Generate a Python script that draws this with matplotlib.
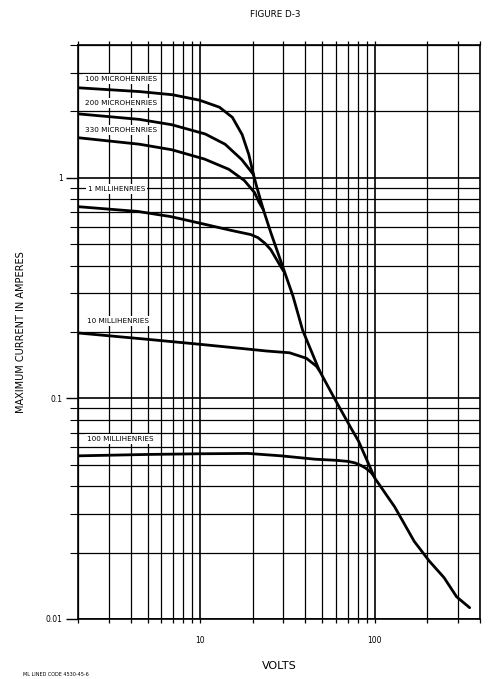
import numpy as np
import matplotlib
matplotlib.use('Agg')
import matplotlib.pyplot as plt
from matplotlib.ticker import LogLocator, NullFormatter

plt.rcParams['font.family'] = ['DejaVu Sans']

# curves: volts -> maximum current (A)
uh100_v = [2.0, 4.5, 6.95, 9.9, 12.9, 15.3, 17.4, 19.0, 20.2]
uh100_a = [2.56, 2.46, 2.38, 2.25, 2.09, 1.88, 1.57, 1.275, 1.035]

uh200_v = [2.0, 4.5, 6.9, 10.7, 13.9, 17.3, 20.2]
uh200_a = [1.95, 1.84, 1.74, 1.58, 1.42, 1.21, 1.035]

uh330_v = [2.0, 4.5, 6.9, 10.6, 14.6, 17.9, 20.5, 21.8, 23.0]
uh330_a = [1.52, 1.42, 1.34, 1.216, 1.093, 0.973, 0.857, 0.772, 0.718]

mh1_v = [2.0, 4.4, 6.8, 10.5, 15.0, 19.5, 21.4, 23.5, 25.4, 28.1, 30.0]
mh1_a = [0.74, 0.704, 0.667, 0.617, 0.578, 0.553, 0.536, 0.505, 0.472, 0.412, 0.378]

mh10_v = [2.0, 5.1, 9.9, 19.2, 24.0, 32.5, 40.6, 46.3, 48.1]
mh10_a = [0.198, 0.185, 0.176, 0.167, 0.164, 0.161, 0.152, 0.140, 0.134]

mh100_v = [2.0, 5.0, 10.0, 18.8, 29.1, 45.5, 60.0, 70.4, 77.0, 83.5, 89.0, 95.0, 100.0]
mh100_a = [0.0549, 0.0557, 0.0561, 0.0563, 0.0549, 0.0530, 0.0524, 0.0518, 0.0510, 0.0496, 0.0482, 0.0462, 0.0438]

# common limit line where all the curves merge
env_v = [20.2, 21.0, 23.0, 25.4, 29.6, 34.0, 38.6, 48.1, 60.0, 72.6, 80.7, 100.0, 130.0, 168.0, 205.0, 249.0, 294.0, 349.0]
env_a = [1.035, 0.922, 0.718, 0.564, 0.399, 0.291, 0.204, 0.134, 0.097, 0.074, 0.064, 0.0435, 0.0322, 0.0225, 0.0183, 0.0154, 0.0126, 0.01125]

curve_labels = ['100 MICROHENRIES', '200 MICROHENRIES', '330 MICROHENRIES',
                '1 MILLIHENRIES', '10 MILLIHENRIES', '100 MILLIHENRIES']
label_x = [2.2, 2.2, 2.2, 2.28, 2.25, 2.25]
label_y = [2.81, 2.19, 1.65, 0.89, 0.225, 0.0656]

fig = plt.figure(figsize=(5.0, 6.79), dpi=100, facecolor='white')
ax = fig.add_axes([0.156, 0.0884, 0.804, 0.8453])
ax.set_xscale('log')
ax.set_yscale('log')
ax.set_xlim(2, 400)
ax.set_ylim(0.01, 4)

# log paper grid
ax.xaxis.set_major_locator(LogLocator(base=10))
ax.xaxis.set_minor_locator(LogLocator(base=10, subs=np.arange(2, 10)))
ax.yaxis.set_major_locator(LogLocator(base=10))
ax.yaxis.set_minor_locator(LogLocator(base=10, subs=np.arange(2, 10)))
ax.xaxis.set_minor_formatter(NullFormatter())
ax.yaxis.set_minor_formatter(NullFormatter())
ax.set_xticks([10, 100])
ax.set_xticklabels(['10', '100'])
ax.set_yticks([0.01, 0.1, 1])
ax.set_yticklabels(['0.01', '0.1', '1'])
ax.grid(True, which='major', color='black', linewidth=1.2)
ax.grid(True, which='minor', color='black', linewidth=0.9)

ax.tick_params(axis='y', which='major', direction='out', length=9, width=1.0, pad=2, labelsize=5.5)
ax.tick_params(axis='y', which='minor', direction='out', length=6, width=0.8)
ax.tick_params(axis='x', which='both', direction='out', length=3, width=0.9,
               top=True, pad=9, labelsize=5.5)
for s in ax.spines.values():
    s.set_linewidth(1.2)

# curves
for v, a in [(uh100_v, uh100_a), (uh200_v, uh200_a), (uh330_v, uh330_a),
             (mh1_v, mh1_a), (mh10_v, mh10_a), (mh100_v, mh100_a), (env_v, env_a)]:
    ax.plot(v, a, color='black', linewidth=2.0, solid_capstyle='round',
            solid_joinstyle='round', zorder=3)

for txt, x, y in zip(curve_labels, label_x, label_y):
    ax.text(x, y, txt, fontsize=5.2, va='center', ha='left', zorder=4,
            bbox=dict(facecolor='white', edgecolor='none', pad=1.5))

ax.set_xlabel('VOLTS', fontsize=8, labelpad=12)
ax.set_ylabel('MAXIMUM CURRENT IN AMPERES', fontsize=7, labelpad=14)
fig.text(0.55, 0.979, 'FIGURE D-3', fontsize=6.3, ha='center', va='center')
fig.text(0.046, 0.003, 'ML LINED CODE 4530-45-6', fontsize=3.5, ha='left', va='bottom')

fig.savefig('out.png', dpi=100, facecolor='white')
